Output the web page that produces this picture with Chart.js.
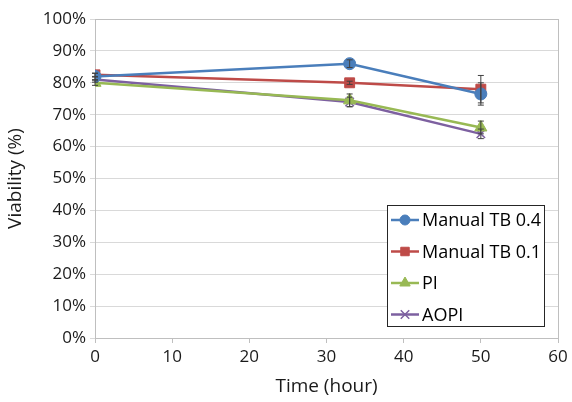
<!DOCTYPE html>
<html>
<head>
<meta charset="utf-8">
<script src="https://cdn.jsdelivr.net/npm/chart.js@4"></script>
<style>
  body { margin: 0; background: #fff; }
  #wrap { width: 572px; height: 402px; }
</style>
</head>
<body>
<div id="wrap"><canvas id="myChart" width="572" height="402"></canvas></div>
<script>
const hours = [0, 33, 50];
const seriesNames = ['Manual TB 0.4', 'Manual TB 0.1', 'PI', 'AOPI'];
const tb04 = [82, 86, 76.5];
const tb01 = [82.5, 80, 78];
const pi = [80, 74.5, 66];
const aopi = [81, 74, 64];
const tb04Err = [1, 1.2, 3.5];
const tb01Err = [0.5, 0.5, 4.3];
const piErr = [0.8, 2, 2];
const aopiErr = [0.8, 1.5, 1.5];
const yTicks = [0, 10, 20, 30, 40, 50, 60, 70, 80, 90, 100];

const colors = ['#4a7ebb', '#be4b48', '#98b954', '#7d60a0'];
const markers = ['circle', 'rect', 'triangle', 'crossRot'];
const markerSize = [6, 7, 7, 6];
const values = [tb04, tb01, pi, aopi];
const errors = [tb04Err, tb01Err, piErr, aopiErr];

const font = "'Open Sans', 'DejaVu Sans', sans-serif";

const datasets = seriesNames.map((name, i) => ({
    label: name,
    data: hours.map((h, j) => ({ x: h, y: values[i][j], err: errors[i][j] })),
    borderColor: colors[i],
    backgroundColor: colors[i],
    borderWidth: 2.5,
    pointStyle: markers[i],
    pointRadius: markerSize[i],
    pointBorderWidth: i === 3 ? 1.5 : 1,
    pointBorderColor: colors[i],
    tension: 0
}));

// error bars, drawn through the scales
const errorBars = {
    id: 'errorBars',
    afterDatasetsDraw(chart) {
        const ctx = chart.ctx;
        const xs = chart.scales.x, ys = chart.scales.y;
        ctx.save();
        ctx.strokeStyle = '#404040';
        ctx.lineWidth = 1;
        chart.data.datasets.forEach(ds => {
            ds.data.forEach(p => {
                const x = xs.getPixelForValue(p.x);
                const top = ys.getPixelForValue(p.y + p.err);
                const bot = ys.getPixelForValue(p.y - p.err);
                ctx.beginPath();
                ctx.moveTo(x, top); ctx.lineTo(x, bot);
                ctx.moveTo(x - 3, top); ctx.lineTo(x + 3, top);
                ctx.moveTo(x - 3, bot); ctx.lineTo(x + 3, bot);
                ctx.stroke();
            });
        });
        ctx.restore();
    }
};

// plot border + legend box inside plot area
const frameAndLegend = {
    id: 'frameAndLegend',
    beforeDatasetsDraw(chart) {
        const { ctx, chartArea: a } = chart;
        ctx.save();
        ctx.strokeStyle = '#bfbfbf';
        ctx.lineWidth = 1;
        ctx.strokeRect(a.left + 0.5, a.top + 0.5, a.right - a.left, a.bottom - a.top);
        ctx.restore();
    },
    afterDraw(chart) {
        const { ctx, chartArea: a } = chart;
        const bx = a.right - 171, by = a.bottom - 133, bw = 157, bh = 121;
        ctx.save();
        ctx.fillStyle = '#fff';
        ctx.fillRect(bx, by, bw, bh);
        ctx.strokeStyle = '#262626';
        ctx.lineWidth = 1;
        ctx.strokeRect(bx + 0.5, by + 0.5, bw, bh);
        ctx.font = '18px ' + font;
        ctx.textBaseline = 'middle';
        chart.data.datasets.forEach((ds, i) => {
            const y = by + 15 + i * 31.5;
            ctx.strokeStyle = ds.borderColor;
            ctx.lineWidth = 2.5;
            ctx.beginPath();
            ctx.moveTo(bx + 4, y); ctx.lineTo(bx + 32, y);
            ctx.stroke();
            ctx.fillStyle = ds.borderColor;
            ctx.lineWidth = ds.pointBorderWidth;
            Chart.helpers.drawPoint(ctx, {
                pointStyle: ds.pointStyle, radius: ds.pointRadius - (i === 3 ? 0 : 1), borderWidth: 1
            }, bx + 18, y);
            ctx.fillStyle = '#000';
            ctx.fillText(ds.label, bx + 35, y + 1);
        });
        ctx.restore();
    }
};

new Chart(document.getElementById('myChart').getContext('2d'), {
    type: 'line',
    data: { datasets: datasets },
    options: {
        responsive: false,
        animation: false,
        layout: { padding: { top: 19, right: 14, left: 0, bottom: 0 } },
        plugins: { legend: { display: false }, tooltip: { enabled: false } },
        scales: {
            x: {
                type: 'linear',
                min: 0, max: 60,
                afterFit(axis) { axis.height = 64; },
                ticks: { stepSize: 10, color: '#1a1a1a', font: { size: 17, family: font }, padding: 4 },
                grid: { display: true, drawOnChartArea: false, tickLength: 5, color: '#bfbfbf' },
                border: { color: '#bfbfbf' },
                title: { display: true, text: 'Time (hour)', color: '#1a1a1a', font: { size: 19, family: font }, padding: { top: 5 } }
            },
            y: {
                min: 0, max: 100,
                afterFit(axis) { axis.width = 95; },
                afterBuildTicks(axis) { axis.ticks = yTicks.map(v => ({ value: v })); },
                ticks: { color: '#1a1a1a', font: { size: 17, family: font }, callback: v => v + '%', padding: 4 },
                grid: { color: '#d9d9d9', tickLength: 5 },
                border: { color: '#bfbfbf' },
                title: { display: true, text: 'Viability (%)', color: '#1a1a1a', font: { size: 19, family: font }, padding: { bottom: 4 } }
            }
        }
    },
    plugins: [frameAndLegend, errorBars]
});
</script>
</body>
</html>
